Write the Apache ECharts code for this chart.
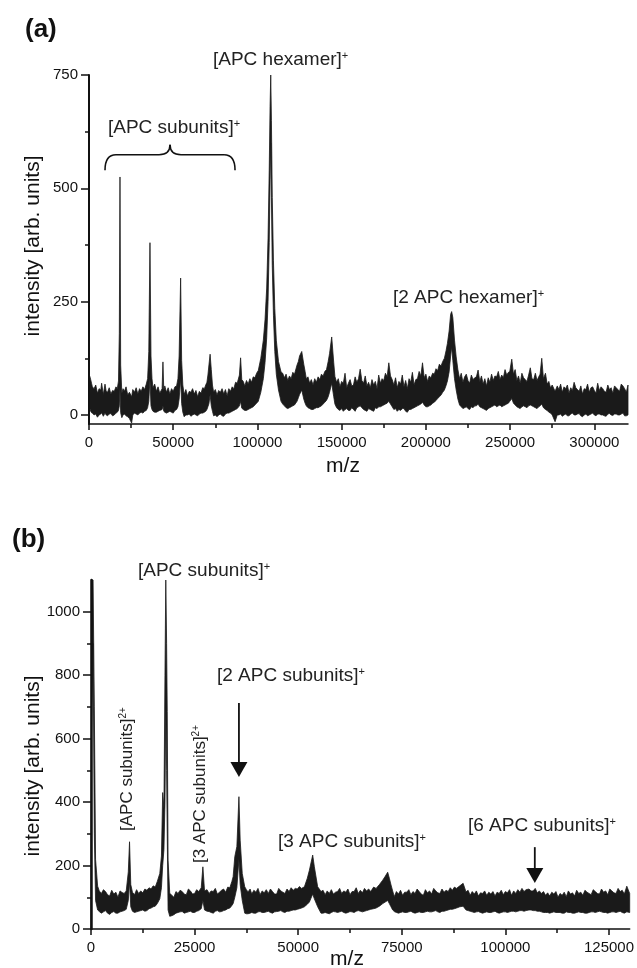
<!DOCTYPE html>
<html>
<head>
<meta charset="utf-8">
<script src="https://cdn.jsdelivr.net/npm/echarts@6/dist/echarts.min.js"></script>
<style>
html,body{margin:0;padding:0;background:#fff;}
#c{width:637px;height:968px;}
</style>
</head>
<body>
<div id="c"></div>
<script>
// ---------- Panel (a): m/z, lower and upper envelope of the noisy trace ----------
const aMz = [
0,500,1000,1500,2000,3000,4000,5000,6000,7000,
7500,8500,9500,10200,11000,12000,13000,14000,15000,16000,
16800,17500,18000,18400,18800,19500,20200,21000,22000,23000,
24000,25300,26000,27000,28000,29000,30000,31000,32000,33000,
34000,34800,35500,36200,36800,37400,38000,39000,40000,41000,
42000,43400,43900,44400,45000,46000,47000,48000,49000,50000,
51000,52000,52800,53500,54400,55000,55700,56500,57500,58500,
59500,60500,61500,62500,63500,64500,65500,66500,67500,68500,
69300,70000,70600,71200,71900,72600,73300,74000,75000,76000,
77000,78000,79000,80000,81000,82000,83000,84000,85000,86000,
87000,88000,89300,90000,90700,91600,92500,93500,94500,95500,
96500,97500,98500,99500,100500,102000,103500,104500,105500,106300,
107000,107500,107900,108300,108800,109500,110300,111200,112500,114000,
115000,116000,117000,118000,119000,120000,121000,122000,123500,124300,
125000,126300,127500,128300,129000,130000,131000,132000,133000,134000,
135000,136000,137000,138000,139000,140000,141000,142000,142800,144100,
145300,146000,147000,148000,149000,150000,151000,152000,153000,154000,
155000,156000,157000,158000,159000,160000,161000,162000,163000,164000,
165000,166000,167000,168000,169000,170000,171000,172000,173000,174000,
175000,176000,177000,178000,179000,180000,181000,182000,183000,184000,
185000,186000,187000,188000,189000,190000,191000,192000,193000,194000,
195000,196000,197000,198000,199000,200000,201000,202000,203000,204000,
205000,206000,207000,208000,209000,210000,211000,212000,212800,213800,
214700,215300,216000,217000,218000,219000,220000,221000,222000,223000,
224000,225000,226000,227000,228000,229000,230000,231000,232000,233000,
234000,235000,236000,237000,238000,239000,240000,241000,242000,243000,
244000,245000,246000,247000,248000,249000,249800,251000,252000,253000,
254000,255000,256000,257000,258000,259000,260000,261000,262000,263000,
264000,265000,266000,267000,267800,268800,269800,271000,272000,273000,
274000,275000,276700,278000,279000,280000,281000,282000,283000,284000,
285000,286000,287000,288000,289000,290000,291000,292000,293000,294000,
295000,296000,297000,298000,299000,300000,301000,302000,303000,304000,
305000,306000,307000,308000,309000,310000,311000,312000,313000,314000,
315000,316000,317000,318000,319000,320000];
const aLow = [
30,15,8,5,4,0,2,-5,0,2,
5,-3,4,0,-2,2,3,-2,0,4,
6,10,20,60,5,-6,0,2,-2,-4,
-8,-18,0,4,2,0,4,6,4,8,
10,16,30,80,20,12,8,6,6,8,
10,12,20,8,6,4,6,8,6,4,
10,12,18,35,80,25,6,-4,0,0,
2,-3,0,2,0,-2,2,4,4,6,
8,12,18,25,45,20,8,-2,0,-4,
0,2,-2,-3,2,4,4,6,8,10,
12,14,20,30,15,12,10,10,12,14,
16,18,22,26,30,50,80,115,170,250,
380,520,600,480,330,220,140,90,55,30,
24,20,16,14,16,18,20,22,30,38,
45,55,35,26,20,16,14,12,12,14,
16,16,18,20,24,28,32,40,50,70,
40,24,16,12,10,14,8,12,14,10,
10,16,12,8,16,18,20,16,12,10,
8,14,12,10,8,16,14,18,18,20,
22,24,26,30,24,18,12,14,8,12,
10,14,14,8,6,12,12,14,16,18,
20,22,24,28,22,18,18,20,22,26,
28,32,36,40,44,50,55,65,75,95,
130,150,120,80,55,35,22,18,14,16,
18,14,12,18,16,20,20,24,18,16,
14,12,10,14,16,18,20,22,18,20,
22,18,20,22,24,26,30,36,26,22,
18,16,14,18,20,18,16,20,22,20,
18,16,14,18,20,24,16,12,10,6,
4,0,-15,0,0,2,-3,0,2,-2,
-2,2,4,0,0,2,3,-2,-4,0,
2,-2,0,2,4,0,-2,2,2,0,
0,-2,-3,2,3,0,-1,2,2,0,
0,2,4,-2,-2,0];
const aHigh = [
90,85,78,70,62,58,66,48,58,55,
70,45,68,52,50,60,46,54,52,62,
58,75,180,525,110,48,58,52,62,44,
50,40,56,50,60,46,58,52,62,56,
68,80,140,380,130,80,60,68,52,62,
48,58,117,55,64,50,60,46,58,52,
62,64,80,130,302,120,66,45,56,42,
52,50,58,46,54,40,52,48,60,58,
66,72,88,110,134,100,66,50,56,44,
54,50,58,46,56,42,58,52,62,58,
72,70,88,126,78,74,64,76,68,80,
72,84,82,92,98,125,165,210,280,390,
540,680,750,650,480,340,235,165,118,95,
92,82,90,76,86,80,94,90,110,118,
130,140,112,96,80,84,70,78,66,80,
72,84,78,90,86,96,100,118,135,172,
115,85,72,80,62,74,70,92,60,70,
78,64,66,84,72,80,101,76,70,86,
64,72,60,78,66,74,58,88,70,80,
76,92,84,115,86,78,66,82,60,74,
68,88,62,76,58,80,72,94,66,78,
80,96,86,115,82,90,74,86,82,92,
90,102,98,112,108,118,125,142,158,185,
222,228,215,165,128,100,80,92,72,84,
90,76,70,88,78,82,84,99,74,86,
68,80,64,82,72,90,76,86,84,96,
78,88,82,100,88,94,96,123,90,100,
76,86,70,92,82,78,74,88,104,80,
78,92,76,84,90,125,80,92,68,74,
60,66,52,64,56,68,50,62,58,66,
48,60,54,72,60,56,52,64,46,58,
56,68,50,60,62,54,48,70,54,62,
58,52,50,66,56,60,48,64,60,56,
52,68,64,58,50,66];
const aXLabels = [0,50000,100000,150000,200000,250000,300000];
const aXMinor = [25000,75000,125000,175000,225000,275000];
const aYLabels = [0,250,500,750];
const aYMinor = [125,375,625];

// ---------- Panel (b) ----------
const bMz = [
0,100,500,800,1100,1600,2000,2500,3000,3500,
4000,4500,5000,5500,6000,6500,7000,7500,8000,8500,
9000,9300,9600,10000,10500,11000,11500,12000,12500,13000,
13500,14000,14500,15000,15500,16000,16600,17000,17300,17600,
17850,18050,18250,18400,18600,19000,19500,20000,20500,21000,
21500,22000,22500,23000,23500,24000,24500,25000,25500,26000,
26600,27000,27400,28000,28500,29000,29500,30000,30500,31000,
31500,32000,32500,33000,33500,34000,34300,34700,35200,35700,
36000,36500,37100,37500,37900,38400,38800,39300,39800,40300,
40800,41300,41800,42300,42800,43300,43800,44300,44800,45300,
45800,46300,46800,47300,47800,48300,48800,49300,49800,50300,
50800,51500,52200,52700,53500,53900,54700,55100,55500,56000,
56500,57000,57500,58000,58500,59000,59500,60000,60500,61000,
61500,62000,62500,63000,63500,64000,64500,65000,65500,66000,
66500,67000,67500,68200,68800,69600,70400,71000,71600,72000,
72400,72800,73200,73700,74200,74700,75200,75700,76200,76700,
77200,77700,78200,78700,79200,79700,80200,80700,81200,81700,
82200,82700,83200,83700,84200,84700,85200,85700,86200,86700,
87200,87700,88200,89000,89800,90500,91000,91500,92000,92500,
93000,93500,94000,94500,95000,95500,96000,96500,97000,97500,
98000,98500,99000,99500,100000,100500,101000,101500,102000,102500,
103000,103500,104000,104500,105000,105700,106200,106700,107200,107700,
108200,108700,109200,109700,110200,110700,111200,111700,112200,112700,
113200,113700,114200,114700,115200,115700,116200,116700,117200,117700,
118200,118700,119200,119700,120200,120700,121200,121700,122200,122700,
123200,123700,124200,124700,125200,125700,126200,126700,127200,127700,
128200,128700,129300,130000];
const bLow = [
0,600,900,300,90,60,55,50,54,58,
50,46,52,55,50,50,54,56,58,62,
90,150,70,56,52,54,56,58,60,56,
58,64,66,70,72,80,95,130,200,250,
400,700,500,300,60,40,42,45,50,52,
54,55,50,52,54,56,52,52,56,58,
64,90,60,56,55,52,50,56,58,54,
55,58,60,64,66,74,80,100,130,220,
140,90,50,48,48,50,52,50,50,54,
55,52,52,54,56,52,50,54,55,56,
58,54,52,56,56,58,60,60,62,64,
66,70,78,85,110,95,70,60,50,50,
52,50,48,52,55,54,52,54,56,52,
50,52,55,54,52,56,58,56,54,56,
58,60,62,64,66,72,80,85,90,80,
70,60,55,52,50,52,54,52,52,54,
56,52,50,52,54,52,52,54,56,54,
54,56,58,54,52,56,56,58,60,62,
62,64,66,70,72,60,58,56,54,52,
54,55,52,50,52,54,52,52,54,56,
52,50,52,54,54,52,54,56,56,54,
56,58,58,56,58,60,60,58,58,56,
56,54,52,52,52,50,52,54,52,52,
52,50,50,54,52,52,50,50,52,54,
52,52,50,50,52,54,54,52,54,56,
54,52,52,50,52,54,54,52,54,56,
52,50,54,52];
const bHigh = [
0,1100,1100,700,220,135,120,112,124,118,
108,104,122,110,116,100,120,115,112,120,
180,275,140,116,108,124,112,120,114,126,
122,130,126,136,132,150,175,230,430,380,
800,1100,900,685,217,113,106,100,118,112,
122,118,110,108,126,120,110,112,124,118,
130,196,120,124,112,120,118,128,110,116,
122,126,116,132,130,150,165,228,260,417,
280,175,133,124,117,126,110,122,116,128,
108,120,114,124,112,126,118,110,110,128,
120,116,112,126,118,130,122,128,126,134,
128,133,160,185,233,196,133,126,118,122,
108,120,112,124,110,116,118,128,112,120,
116,126,108,118,118,130,112,122,114,128,
120,126,118,132,128,140,154,166,179,160,
139,120,102,118,110,122,106,116,116,124,
108,118,112,126,118,110,106,124,114,120,
110,128,120,114,112,126,116,122,118,130,
122,132,128,136,144,117,122,106,118,110,
120,104,114,112,120,106,116,110,118,104,
116,112,122,108,118,114,124,106,120,112,
124,116,128,118,124,126,120,120,128,114,
120,112,118,106,114,104,116,110,118,100,
112,106,116,102,120,110,114,104,122,112,
116,106,122,116,112,108,124,118,112,110,
126,116,120,108,126,120,114,112,128,118,
122,110,135,112];
const bXLabels = [0,25000,50000,75000,100000,125000];
const bXMinor = [12500,37500,62500,87500,112500];
const bYLabels = [0,200,400,600,800,1000];
const bYMinor = [100,300,500,700,900];

if (aMz.length !== aLow.length || aMz.length !== aHigh.length) throw new Error('panel a arrays differ: '+aMz.length+' '+aLow.length+' '+aHigh.length);
if (bMz.length !== bLow.length || bMz.length !== bHigh.length) throw new Error('panel b arrays differ: '+bMz.length+' '+bLow.length+' '+bHigh.length);

const FF = '"Liberation Sans", Arial, Helvetica, sans-serif';
const INK = '#111';
const TRACE = '#1a1a1a';

function xAxes(grid, min, max, labels, minor, margin) {
  return [
    { type:'value', gridIndex:grid, min, max, position:'bottom', z:4,
      axisLine:{show:true, onZero:false, lineStyle:{color:INK, width:1.5}},
      axisTick:{show:true, customValues:labels, length:6, lineStyle:{color:INK, width:1.5}},
      axisLabel:{show:true, customValues:labels, margin, fontSize:15, fontFamily:FF, color:INK, formatter:v=>String(v)},
      splitLine:{show:false} },
    { type:'value', gridIndex:grid, min, max, position:'bottom', z:4,
      axisLine:{show:false, onZero:false},
      axisTick:{show:true, customValues:minor, length:4, lineStyle:{color:INK, width:1.5}},
      axisLabel:{show:false}, splitLine:{show:false} }
  ];
}
function yAxes(grid, min, max, labels, minor, lw) {
  return [
    { type:'value', gridIndex:grid, min, max, position:'left', z:4,
      axisLine:{show:true, onZero:false, lineStyle:{color:INK, width:lw}},
      axisTick:{show:true, customValues:labels, length:8, lineStyle:{color:INK, width:1.5}},
      axisLabel:{show:true, customValues:labels, margin:11, fontSize:15, fontFamily:FF, color:INK, formatter:v=>String(v)},
      splitLine:{show:false} },
    { type:'value', gridIndex:grid, min, max, position:'left', z:4,
      axisLine:{show:false, onZero:false},
      axisTick:{show:true, customValues:minor, length:4, lineStyle:{color:INK, width:1.5}},
      axisLabel:{show:false}, splitLine:{show:false} }
  ];
}
// The noisy trace is drawn as the filled region between its lower and upper envelope.
function band(mz, lo, hi, xi, yi) {
  return {
    type:'custom', xAxisIndex:xi, yAxisIndex:yi, silent:true, z:3,
    data: mz.map((m,i)=>[m, lo[i], hi[i]]),
    encode:{x:0, y:[1,2]},
    renderItem:function(params, api){
      if (params.dataIndex !== 0) return null;
      const pts = [];
      for (let i=0;i<mz.length;i++) pts.push(api.coord([mz[i], hi[i]]));
      for (let i=mz.length-1;i>=0;i--) pts.push(api.coord([mz[i], lo[i]]));
      return { type:'polygon', shape:{points:pts}, style:{fill:TRACE, stroke:TRACE, lineWidth:0.8} };
    }
  };
}

const option = {
  animation:false,
  backgroundColor:'#fff',
  grid:[
    {left:89, top:75, width:539, height:349, containLabel:false},
    {left:91, top:580, width:539, height:349, containLabel:false}
  ],
  xAxis:[...xAxes(0,0,320000,aXLabels,aXMinor,11), ...xAxes(1,0,130000,bXLabels,bXMinor,11)],
  yAxis:[...yAxes(0,-20,750,aYLabels,aYMinor,2), ...yAxes(1,0,1100,bYLabels,bYMinor,2.5)],
  series:[band(aMz,aLow,aHigh,0,0), band(bMz,bLow,bHigh,2,2)]
};

const chart = echarts.init(document.getElementById('c'));
chart.setOption(option);

function px(panel, x, y) {
  const k = panel*2;
  return chart.convertToPixel({xAxisIndex:k, yAxisIndex:k}, [x, y]);
}
function supLabel(x, y, main, sup, opt) {
  opt = opt || {};
  const fs = opt.fs || 19;
  return { type:'text', x, y, rotation: opt.rot || 0, z:10, silent:true,
    style:{ text:'{m|'+main+'}{s|'+sup+'}', align: opt.align || 'left', verticalAlign:'middle',
      rich:{ m:{fontSize:fs, fontFamily:FF, fill:'#222', verticalAlign:'bottom'},
             s:{fontSize:Math.round(fs*0.58), fontFamily:FF, fill:'#222', verticalAlign:'top'} } } };
}
function plain(x, y, text, fs, opt) {
  opt = opt || {};
  return { type:'text', x, y, rotation: opt.rot || 0, z:10, silent:true,
    style:{ text, fontSize:fs, fontFamily:FF, fontWeight: opt.bold ? 'bold' : 'normal',
      fill: opt.fill || INK, align: opt.align || 'center', verticalAlign:'middle' } };
}
function arrow(panel, mz, vTop, vTip) {
  const a = px(panel, mz, vTop), b = px(panel, mz, vTip);
  const hl = 15, hw = 8.5;
  return [
    { type:'line', silent:true, z:10, shape:{x1:a[0], y1:a[1], x2:b[0], y2:b[1]-hl+1}, style:{stroke:INK, lineWidth:1.8} },
    { type:'polygon', silent:true, z:10, shape:{points:[[b[0]-hw, b[1]-hl],[b[0]+hw, b[1]-hl],[b[0], b[1]]]}, style:{fill:INK} }
  ];
}
function brace(panel, m1, m2, vEnd, vBar, vTip) {
  const p1 = px(panel, m1, vEnd), p2 = px(panel, m2, vEnd);
  const yb = px(panel, m1, vBar)[1], yt = px(panel, m1, vTip)[1];
  const xm = (p1[0]+p2[0])/2, r = 11;
  const st = {stroke:INK, lineWidth:1.6, fill:null};
  const curve = (x1,y1,cx,cy,x2,y2) => ({ type:'bezierCurve', silent:true, z:10, shape:{x1,y1,x2,y2,cpx1:cx,cpy1:cy}, style:st });
  const seg = (x1,y1,x2,y2) => ({ type:'line', silent:true, z:10, shape:{x1,y1,x2,y2}, style:st });
  return [
    curve(p1[0], p1[1], p1[0], yb, p1[0]+r, yb),
    seg(p1[0]+r, yb, xm-r, yb),
    curve(xm-r, yb, xm, yb, xm, yt),
    curve(xm, yt, xm, yb, xm+r, yb),
    seg(xm+r, yb, p2[0]-r, yb),
    curve(p2[0]-r, yb, p2[0], yb, p2[0], p2[1])
  ];
}

const g = [
  plain(25, 30, '(a)', 26, {bold:true, align:'left'}),
  plain(12, 540, '(b)', 26, {bold:true, align:'left'}),
  plain(33, 246, 'intensity [arb. units]', 21, {rot:Math.PI/2}),
  plain(33, 766, 'intensity [arb. units]', 21, {rot:Math.PI/2}),
  plain(343, 466, 'm/z', 21),
  plain(347, 959, 'm/z', 21),
  supLabel(213, 60, '[APC hexamer]', '+'),
  supLabel(108, 128, '[APC subunits]', '+'),
  supLabel(393, 298, '[2 APC hexamer]', '+'),
  supLabel(138, 571, '[APC subunits]', '+'),
  supLabel(217, 676, '[2 APC subunits]', '+'),
  supLabel(278, 842, '[3 APC subunits]', '+'),
  supLabel(468, 826, '[6 APC subunits]', '+'),
  supLabel(127, 831, '[APC subunits]', '2+', {rot:Math.PI/2, fs:17}),
  supLabel(200, 863, '[3 APC subunits]', '2+', {rot:Math.PI/2, fs:17}),
  ...brace(0, 9500, 86700, 540, 574, 596),
  ...arrow(1, 35700, 712, 479),
  ...arrow(1, 107100, 258, 145)
];
chart.setOption({graphic: g});
</script>
</body>
</html>
